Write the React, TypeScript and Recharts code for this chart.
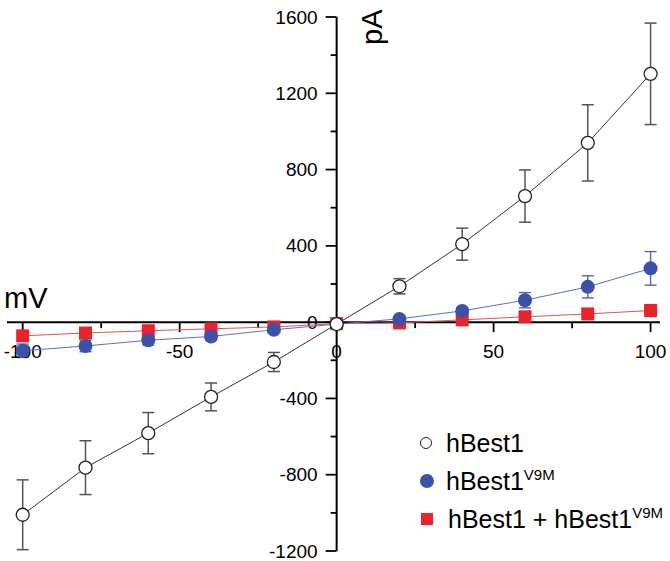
import { ScatterChart, Scatter, XAxis, YAxis, ErrorBar, ReferenceLine, ReferenceDot } from 'recharts';

const voltages = [-100, -80, -60, -40, -20, 0, 20, 40, 60, 80, 100];

const hBest1Mean = [-1010, -763, -582, -392, -209, -10, 188, 409, 661, 940, 1302];
const hBest1Err = [183, 141, 108, 73, 50, 10, 40, 84, 137, 200, 266];

const v9mMean = [-150, -125, -95, -75, -40, -10, 17, 59, 115, 185, 282];
const v9mErr = [35, 30, 25, 20, 12, 5, 8, 15, 40, 58, 88];

const mixMean = [-72, -57, -45, -35, -25, -8, -4, 12, 28, 43, 61];
const mixErr = [12, 10, 8, 7, 5, 4, 4, 6, 8, 10, 12];

const yMajorTicks = [1600, 1200, 800, 400, 0, -400, -800, -1200];
const yMinorTicks = [1400, 1000, 600, 200, -200, -600, -1000];
const xMajorTicks = [-100, -50, 0, 50, 100];
const xMinorTicks = [-75, -25, 25, 75];

const FONT = "Arial, 'Liberation Sans', sans-serif";

const toRows = (mean: number[], err: number[]) =>
  voltages.map((mv, i) => ({ mv, pa: mean[i], err: err[i] }));

const hBest1Data = toRows(hBest1Mean, hBest1Err);
const v9mData = toRows(v9mMean, v9mErr);
const mixData = toRows(mixMean, mixErr);

const OpenCircle = (p: any) => (
  <circle cx={p.cx} cy={p.cy} r={6.5} fill="#fff" stroke="#222" strokeWidth={1.3} />
);
const BlueCircle = (p: any) => <circle cx={p.cx} cy={p.cy} r={7} fill="#3b52a8" />;
const RedSquare = (p: any) => (
  <rect x={p.cx - 6.5} y={p.cy - 6.5} width={13} height={13} fill="#e8232b" />
);

const yTick = (value: number, major: boolean) => (p: any) => (
  <g>
    <line x1={p.cx - (major ? 11 : 6)} y1={p.cy} x2={p.cx} y2={p.cy} stroke="#000" strokeWidth={1.8} />
    {major && (
      <text x={p.cx - 19} y={p.cy} textAnchor="end" dominantBaseline="central" fontSize={19} fontFamily={FONT} fill="#000">
        {value}
      </text>
    )}
  </g>
);

const xTick = (value: number, major: boolean) => (p: any) => (
  <g>
    <line x1={p.cx} y1={p.cy} x2={p.cx} y2={p.cy + (major ? 10 : 6)} stroke="#000" strokeWidth={1.8} />
    {major && (
      <text x={p.cx} y={p.cy + 29} textAnchor="middle" dominantBaseline="central" fontSize={19} fontFamily={FONT} fill="#000">
        {value}
      </text>
    )}
  </g>
);

function LegendBox() {
  const row: React.CSSProperties = { display: 'flex', alignItems: 'center', height: 38 };
  const txt: React.CSSProperties = { fontSize: 25, marginLeft: 14, color: '#000', whiteSpace: 'nowrap' };
  const sup: React.CSSProperties = { fontSize: 15, verticalAlign: 'top', position: 'relative', top: -1 };
  return (
    <div style={{ position: 'absolute', left: 420, top: 424, fontFamily: FONT }}>
      <div style={row}>
        <span style={{ width: 12, height: 12, borderRadius: 6, border: '1.3px solid #222', boxSizing: 'border-box', background: '#fff' }} />
        <span style={txt}>hBest1</span>
      </div>
      <div style={row}>
        <span style={{ width: 14, height: 14, borderRadius: 7, background: '#3b52a8' }} />
        <span style={{ ...txt, marginLeft: 12 }}>
          hBest1<span style={sup}>V9M</span>
        </span>
      </div>
      <div style={row}>
        <span style={{ width: 12, height: 12, background: '#e8232b', marginLeft: 1 }} />
        <span style={{ ...txt, marginLeft: 15 }}>
          hBest1 + hBest1<span style={sup}>V9M</span>
        </span>
      </div>
    </div>
  );
}

export default function App() {
  return (
    <div style={{ position: 'absolute', left: 0, top: 0, width: 670, height: 561, background: '#fff' }}>
      <ScatterChart width={670} height={561} margin={{ top: 17, right: 10, bottom: 10, left: 7 }}>
        <XAxis type="number" dataKey="mv" domain={[-105, 103]} hide allowDataOverflow />
        <YAxis type="number" dataKey="pa" domain={[-1200, 1600]} hide allowDataOverflow />
        <ReferenceLine x={0} stroke="#000" strokeWidth={2} />
        <ReferenceLine y={0} stroke="#000" strokeWidth={2} />
        {yMajorTicks.map((v) => (
          <ReferenceDot key={`ym${v}`} x={0} y={v} r={0} shape={yTick(v, true)} />
        ))}
        {yMinorTicks.map((v) => (
          <ReferenceDot key={`yn${v}`} x={0} y={v} r={0} shape={yTick(v, false)} />
        ))}
        {xMajorTicks.map((v) => (
          <ReferenceDot key={`xm${v}`} x={v} y={0} r={0} shape={xTick(v, true)} />
        ))}
        {xMinorTicks.map((v) => (
          <ReferenceDot key={`xn${v}`} x={v} y={0} r={0} shape={xTick(v, false)} />
        ))}
        <Scatter
          name="hBest1 + hBest1V9M"
          data={mixData}
          line={{ stroke: '#e85050', strokeWidth: 1 }}
          lineType="joint"
          shape={RedSquare}
          isAnimationActive={false}
        >
          <ErrorBar dataKey="err" direction="y" width={5} stroke="#e8232b" strokeWidth={1.2} />
        </Scatter>
        <Scatter
          name="hBest1V9M"
          data={v9mData}
          line={{ stroke: '#5c6fc4', strokeWidth: 1 }}
          lineType="joint"
          shape={BlueCircle}
          isAnimationActive={false}
        >
          <ErrorBar dataKey="err" direction="y" width={6} stroke="#5065b8" strokeWidth={1.4} />
        </Scatter>
        <Scatter
          name="hBest1"
          data={hBest1Data}
          line={{ stroke: '#333', strokeWidth: 1 }}
          lineType="joint"
          shape={OpenCircle}
          isAnimationActive={false}
        >
          <ErrorBar dataKey="err" direction="y" width={6} stroke="#555" strokeWidth={1.5} />
        </Scatter>
      </ScatterChart>
      <div style={{ position: 'absolute', left: 4, top: 282, fontSize: 29, fontFamily: FONT, color: '#000' }}>mV</div>
      <div
        style={{
          position: 'absolute',
          left: 356,
          top: 45,
          fontSize: 29,
          fontFamily: FONT,
          color: '#000',
          transform: 'rotate(-90deg)',
          transformOrigin: 'left top',
        }}
      >
        pA
      </div>
      <LegendBox />
    </div>
  );
}
